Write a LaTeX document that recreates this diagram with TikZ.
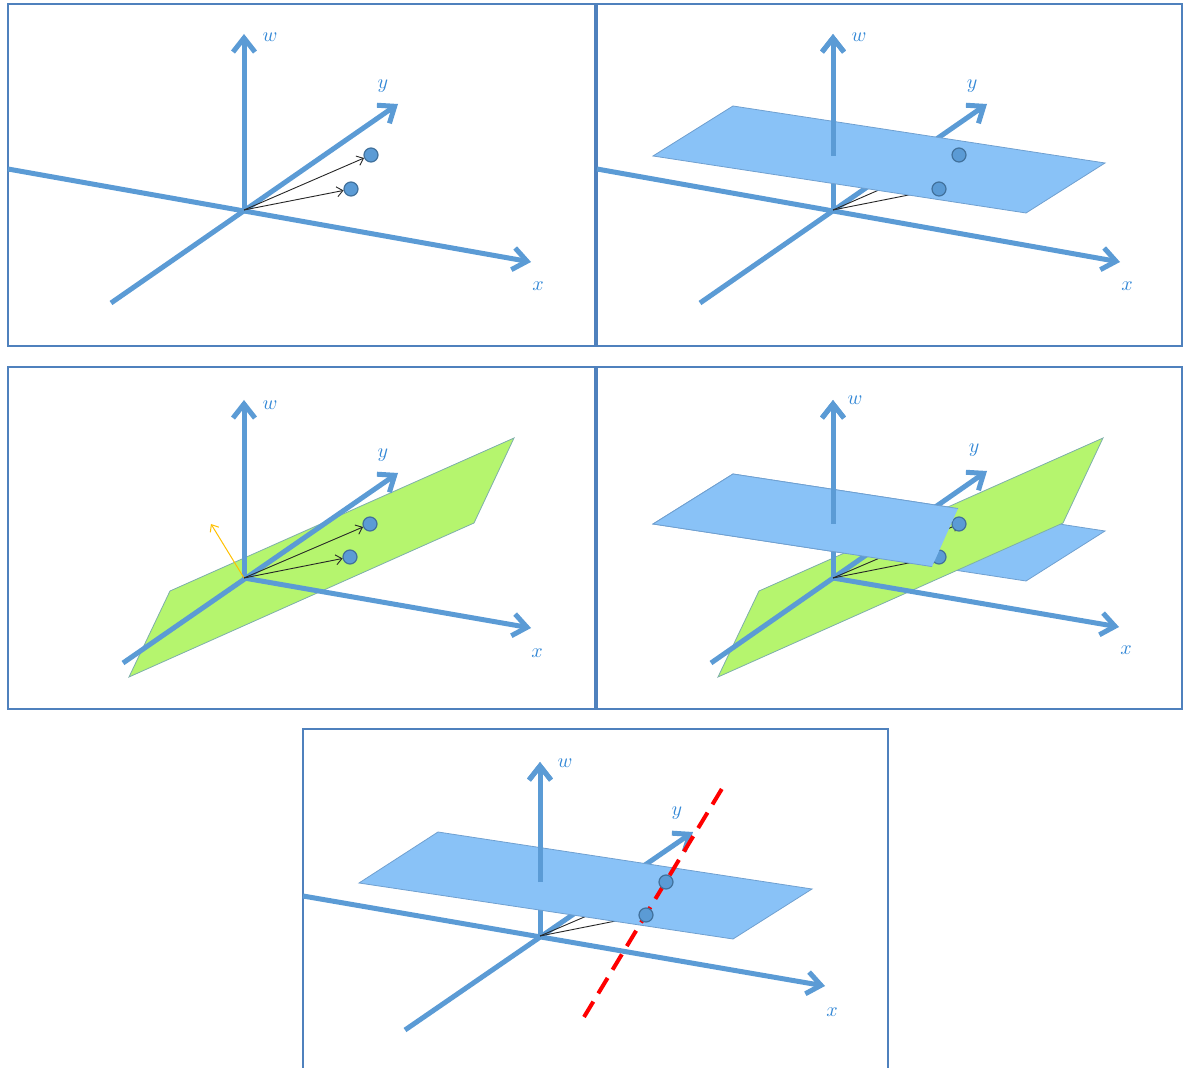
\documentclass[tikz,border=0pt]{standalone}
\usetikzlibrary{arrows.meta}
\definecolor{axisblue}{RGB}{91,155,213}
\definecolor{framblue}{RGB}{79,129,189}
\definecolor{planeblue}{RGB}{137,194,247}
\definecolor{planeedge}{RGB}{112,160,208}
\definecolor{planegreen}{RGB}{181,245,110}
\definecolor{greenedge}{RGB}{125,175,170}
\definecolor{dotedge}{RGB}{65,113,156}
\definecolor{lblblue}{RGB}{52,136,214}
\definecolor{normalgold}{RGB}{255,192,0}
\begin{document}
\begin{tikzpicture}[x=0.5pt,y=-0.5pt,
  panelframe/.style={draw=framblue, line width=0.9pt},
  axisline/.style={draw=axisblue, line width=2.5pt, -{Straight Barb[length=7pt,width=11pt]}},
  axlabel/.style={text=lblblue, inner sep=0pt},
  bluepl/.style={fill=planeblue, draw=planeedge, line width=0.4pt},
  greenpl/.style={fill=planegreen, draw=greenedge, line width=0.4pt},
  ptdot/.style={circle, fill=axisblue, draw=dotedge, line width=0.6pt, minimum size=7pt, inner sep=0pt},
  vecline/.style={draw=black!85, line width=0.45pt, -{Straight Barb[length=3pt,width=5pt]}},
  normalarrow/.style={draw=normalgold, line width=0.5pt, -{Straight Barb[length=3pt,width=5pt]}},
  cutline/.style={draw=red, line width=2pt, dash pattern=on 9pt off 4.8pt}]
\useasboundingbox (0,0) rectangle (1183,1068);

\draw[panelframe] (8,4) rectangle (595,346);
\draw[panelframe] (597,4) rectangle (1182,346);
\draw[panelframe] (8,367) rectangle (595,709);
\draw[panelframe] (597,367) rectangle (1182,709);
\draw[panelframe] (303,1068) -- (303,729) -- (888,729) -- (888,1068);

\begin{scope}[shift={(244,210)}]
\coordinate (o1) at (0,0);
\coordinate (w1) at (0,-176);
\coordinate (ys1) at (-133,93);
\coordinate (ye1) at (154,-106);
\coordinate (xs1) at (-236,-41);
\coordinate (xe1) at (287,52);
\draw[axisline] (xs1) -- (xe1);
\draw[axisline] (ys1) -- (ye1);
\draw[axisline] (o1) -- (w1);
\node[axlabel] (lw1) at (26,-173) {$w$};
\node[axlabel] (ly1) at (139,-124) {$y$};
\node[axlabel] (lx1) at (294,76) {$x$};
\node[ptdot] (pa1) at (127,-55) {};
\node[ptdot] (pb1) at (107,-21) {};
\draw[vecline] (o1) -- (pa1);
\draw[vecline] (o1) -- (pb1);
\end{scope}

\begin{scope}[shift={(833,210)}]
\coordinate (o2) at (0,0);
\coordinate (w2) at (0,-176);
\coordinate (wm2) at (0,-54);
\coordinate (ys2) at (-133,93);
\coordinate (ye2) at (154,-106);
\coordinate (xs2) at (-236,-41);
\coordinate (xe2) at (287,52);
\coordinate (a2) at (126,-55);
\coordinate (b2) at (106,-21);
\draw[axisline] (xs2) -- (xe2);
\draw[axisline] (ys2) -- (ye2);
\draw[axisline] (o2) -- (w2);
\draw[vecline] (o2) -- (a2);
\draw[vecline] (o2) -- (b2);
\draw[bluepl] (-180,-54) -- (-100,-104) -- (272,-47) -- (193,3) -- cycle;
\node[ptdot] (pa2) at (a2) {};
\node[ptdot] (pb2) at (b2) {};
\draw[axisline] (wm2) -- (w2);
\node[axlabel] (lw2) at (26,-173) {$w$};
\node[axlabel] (ly2) at (139,-124) {$y$};
\node[axlabel] (lx2) at (294,76) {$x$};
\end{scope}

\begin{scope}[shift={(244,578)}]
\coordinate (o3) at (0,0);
\coordinate (w3) at (0,-178);
\coordinate (ys3) at (-121,85);
\coordinate (ye3) at (154,-105);
\coordinate (xe3) at (287,50);
\coordinate (n3) at (-33,-54);
\draw[greenpl] (-74,13) -- (270,-140) -- (230,-55) -- (-115,99) -- cycle;
\draw[axisline] (o3) -- (xe3);
\draw[axisline] (ys3) -- (ye3);
\draw[axisline] (o3) -- (w3);
\draw[normalarrow] (o3) -- (n3);
\node[axlabel] (lw3) at (26,-173) {$w$};
\node[axlabel] (ly3) at (139,-123) {$y$};
\node[axlabel] (lx3) at (293,75) {$x$};
\node[ptdot] (pa3) at (126,-54) {};
\node[ptdot] (pb3) at (106,-21) {};
\draw[vecline] (o3) -- (pa3);
\draw[vecline] (o3) -- (pb3);
\end{scope}

\begin{scope}[shift={(833,578)}]
\coordinate (o4) at (0,0);
\coordinate (w4) at (0,-178);
\coordinate (wm4) at (0,-54);
\coordinate (ys4) at (-122,85);
\coordinate (ye4) at (154,-107);
\coordinate (xe4) at (286,49);
\coordinate (a4) at (126,-54);
\coordinate (b4) at (106,-21);
\draw[bluepl] (-180,-54) -- (-100,-104) -- (272,-47) -- (193,3) -- cycle;
\draw[greenpl] (-74,13) -- (270,-140) -- (230,-55) -- (-115,99) -- cycle;
\draw[axisline] (o4) -- (xe4);
\draw[axisline] (ys4) -- (ye4);
\draw[axisline] (o4) -- (w4);
\draw[vecline] (o4) -- (a4);
\draw[vecline] (o4) -- (b4);
\node[ptdot] (pa4) at (a4) {};
\node[ptdot] (pb4) at (b4) {};
\fill[planeblue] (-180,-54) -- (-100,-104) -- (125,-69.5) -- (99,-11.4) -- cycle;
\draw[planeedge, line width=0.4pt] (125,-69.5) -- (-100,-104) -- (-180,-54) -- (99,-11.4);
\draw[axisline] (wm4) -- (w4);
\node[axlabel] (lw4) at (22,-178) {$w$};
\node[axlabel] (ly4) at (141,-128) {$y$};
\node[axlabel] (lx4) at (293,72) {$x$};
\end{scope}

\begin{scope}[shift={(540,936)}]
\coordinate (o5) at (0,0);
\coordinate (w5) at (0,-174);
\coordinate (wm5) at (0,-54);
\coordinate (ys5) at (-135,94);
\coordinate (ye5) at (153,-104);
\coordinate (xs5) at (-237,-40);
\coordinate (xe5) at (285,50);
\coordinate (a5) at (126,-54);
\coordinate (b5) at (106,-21);
\coordinate (r5) at (44,81);
\coordinate (s5) at (186,-154);
\draw[axisline] (xs5) -- (xe5);
\draw[axisline] (ys5) -- (ye5);
\draw[axisline] (o5) -- (w5);
\draw[vecline] (o5) -- (a5);
\draw[vecline] (o5) -- (b5);
\draw[bluepl] (-181,-53) -- (-102,-104) -- (272,-47) -- (193,3) -- cycle;
\draw[cutline] (r5) -- (s5);
\node[ptdot] (pa5) at (a5) {};
\node[ptdot] (pb5) at (b5) {};
\draw[axisline] (wm5) -- (w5);
\node[axlabel] (lw5) at (25,-173) {$w$};
\node[axlabel] (ly5) at (137,-123) {$y$};
\node[axlabel] (lx5) at (292,76) {$x$};
\end{scope}
\end{tikzpicture}
\end{document}
